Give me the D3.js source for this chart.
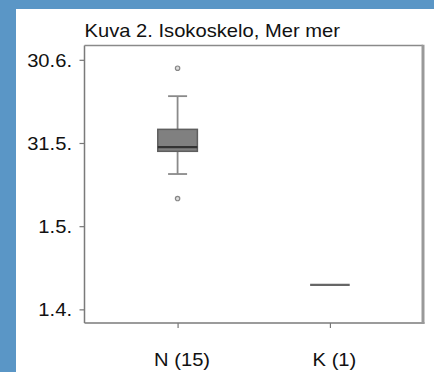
<!DOCTYPE html>
<html><head><meta charset="utf-8">
<script src="https://cdn.jsdelivr.net/npm/d3@7"></script>
<style>html,body{margin:0;padding:0;background:#5a96c6;}svg{display:block;}</style>
</head><body>
<script>
// Data (in axis units: tick positions 0..3)
const title = "Kuva 2. Isokoskelo, Mer mer";
const categories = ["N (15)", "K (1)"];
const groupKeys = ["N", "K"];
const tickValues = [3, 2, 1, 0];
const tickLabels = ["30.6.", "31.5.", "1.5.", "1.4."];
// box stats: [lowWhisker, q1, median, q3, highWhisker]
const boxStatsN = [1.627, 1.900, 1.951, 2.164, 2.563];
const outliersN = [2.899, 1.332];
const valueK = [0.295];

const W = 434, H = 372;
const svg = d3.select("body").append("svg").attr("width", W).attr("height", H);
svg.append("rect").attr("x", 0).attr("y", 0).attr("width", W).attr("height", H).attr("fill", "#5a96c6");
svg.append("rect").attr("x", 16).attr("y", 9).attr("width", W - 16).attr("height", H - 9).attr("fill", "#ffffff");

const L = 84.5, R = 423, T = 45.5, B = 323;
const y = d3.scaleLinear().domain([-0.164, 3.172]).range([B, T]);
const x = d3.scalePoint().domain(groupKeys).range([L, R]).padding(0.611);
const sx = 1.12;
const font = "'Liberation Sans', Arial, Helvetica, sans-serif";

// title
svg.append("text").attr("transform", `translate(${L},37) scale(${sx},1)`)
  .attr("font-family", font).attr("font-size", 18).attr("fill", "#111").text(title);

// y axis
const yAxis = d3.axisLeft(y).tickValues(tickValues).tickSize(5).tickFormat((d, i) => tickLabels[i]);
const gy = svg.append("g").attr("transform", `translate(${L},0)`).call(yAxis);
gy.select(".domain").remove();
gy.selectAll(".tick line").attr("stroke", "#777").attr("stroke-width", 1.2);
gy.selectAll(".tick text").attr("font-family", font).attr("font-size", 18).attr("fill", "#111")
  .attr("x", 0).attr("dy", "0.35em")
  .attr("transform", `translate(-12.5,0) scale(${sx},1)`);

// x axis
const xAxis = d3.axisBottom(x).tickSize(5).tickFormat((d, i) => categories[i]);
const gx = svg.append("g").attr("transform", `translate(0,${B})`).call(xAxis);
gx.select(".domain").remove();
gx.selectAll(".tick line").attr("stroke", "#777").attr("stroke-width", 1.2);
gx.selectAll(".tick text").attr("font-family", font).attr("font-size", 18).attr("fill", "#111")
  .attr("y", 0).attr("dy", 0)
  .attr("transform", `translate(4,43) scale(${sx},1)`);

// frame
svg.append("line").attr("x1", L).attr("x2", L).attr("y1", T).attr("y2", B).attr("stroke", "#7a7a7a").attr("stroke-width", 1.5);
svg.append("line").attr("x1", L).attr("x2", R).attr("y1", T).attr("y2", T).attr("stroke", "#8a8a8a").attr("stroke-width", 1.5);
svg.append("line").attr("x1", L).attr("x2", R + 1.5).attr("y1", B).attr("y2", B).attr("stroke", "#7a7a7a").attr("stroke-width", 1.6);
svg.append("line").attr("x1", R).attr("x2", R).attr("y1", T - 0.7).attr("y2", B + 0.8).attr("stroke", "#999").attr("stroke-width", 3);

// box N
const cx = x("N");
const bw = 39.6, cw = 19;
const [lw, q1, med, q3, hw] = boxStatsN;
const g = svg.append("g");
g.append("line").attr("x1", cx).attr("x2", cx).attr("y1", y(hw)).attr("y2", y(q3)).attr("stroke", "#8a8a8a").attr("stroke-width", 1.8);
g.append("line").attr("x1", cx).attr("x2", cx).attr("y1", y(q1)).attr("y2", y(lw)).attr("stroke", "#8a8a8a").attr("stroke-width", 1.8);
g.append("line").attr("x1", cx - cw / 2).attr("x2", cx + cw / 2).attr("y1", y(hw)).attr("y2", y(hw)).attr("stroke", "#8a8a8a").attr("stroke-width", 1.8);
g.append("line").attr("x1", cx - cw / 2).attr("x2", cx + cw / 2).attr("y1", y(lw)).attr("y2", y(lw)).attr("stroke", "#8a8a8a").attr("stroke-width", 1.8);
g.append("rect").attr("x", cx - bw / 2).attr("y", y(q3)).attr("width", bw).attr("height", y(q1) - y(q3))
  .attr("fill", "#808080").attr("stroke", "#5e5e5e").attr("stroke-width", 1.5);
g.append("line").attr("x1", cx - bw / 2).attr("x2", cx + bw / 2).attr("y1", y(med)).attr("y2", y(med)).attr("stroke", "#333").attr("stroke-width", 2.2);
g.selectAll("circle.out").data(outliersN).join("circle").attr("class", "out")
  .attr("cx", cx).attr("cy", d => y(d)).attr("r", 2.2)
  .attr("fill", "#ddd").attr("stroke", "#888").attr("stroke-width", 1.2);

// K single value
svg.selectAll("line.k").data(valueK).join("line").attr("class", "k")
  .attr("x1", x("K") - bw / 2).attr("x2", x("K") + bw / 2)
  .attr("y1", d => y(d)).attr("y2", d => y(d)).attr("stroke", "#666").attr("stroke-width", 2.2);
</script>
</body></html>
